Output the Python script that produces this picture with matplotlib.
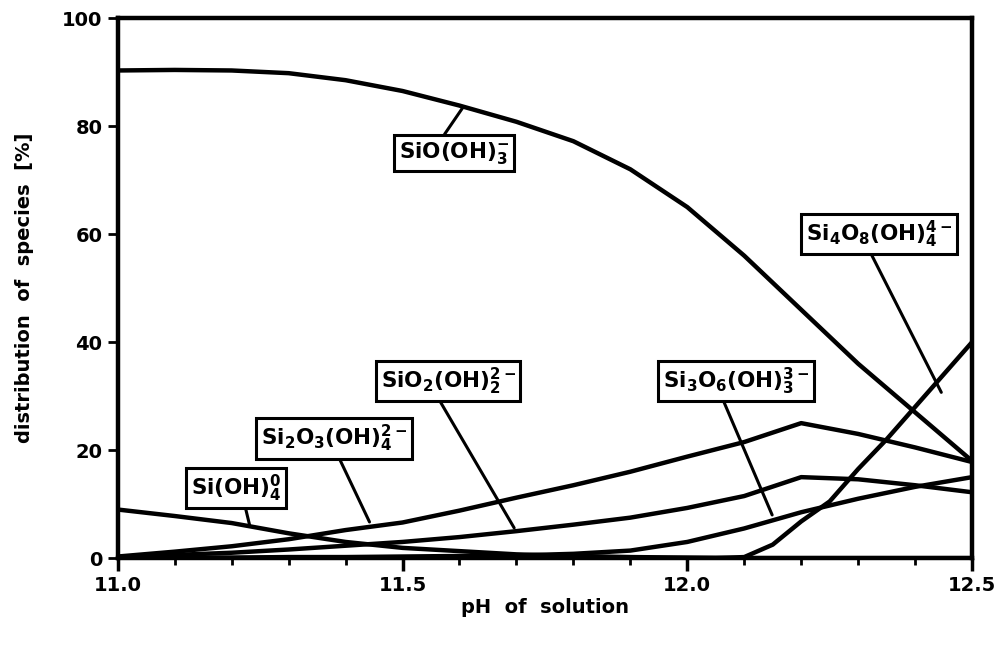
import matplotlib

matplotlib.use("Agg")
import matplotlib.pyplot as plt

plt.rcParams["font.family"] = ["DejaVu Sans"]
plt.rcParams["font.weight"] = "bold"
plt.rcParams["mathtext.fontset"] = "custom"
plt.rcParams["mathtext.rm"] = "DejaVu Sans:bold"
plt.rcParams["mathtext.it"] = "DejaVu Sans:bold"
plt.rcParams["mathtext.bf"] = "DejaVu Sans:bold"
plt.rcParams["mathtext.default"] = "rm"

# pH grid used for most species
ph = [11.0, 11.1, 11.2, 11.3, 11.4, 11.5, 11.6, 11.7, 11.8, 11.9, 12.0, 12.1, 12.2, 12.3, 12.4, 12.5]

sio_oh3 = [90.3, 90.4, 90.3, 89.8, 88.5, 86.5, 83.8, 80.8, 77.2, 72.0, 65.0, 56.0, 46.0, 36.0, 27.0, 18.0]
si2o3_oh4 = [0.3, 1.2, 2.2, 3.5, 5.2, 6.6, 8.8, 11.2, 13.5, 16.0, 18.8, 21.5, 25.0, 23.0, 20.5, 17.8]
sio2_oh2 = [0.2, 0.6, 1.0, 1.6, 2.3, 3.0, 3.9, 5.0, 6.2, 7.5, 9.3, 11.5, 15.0, 14.6, 13.5, 12.2]
si3o6_oh3 = [0.0, 0.1, 0.1, 0.2, 0.2, 0.3, 0.4, 0.5, 0.8, 1.4, 3.0, 5.5, 8.5, 11.0, 13.2, 15.0]
si_oh4 = [9.0, 7.8, 6.5, 4.6, 3.0, 1.9, 1.3, 0.7, 0.4, 0.2, 0.1, 0.0, 0.0, 0.0, 0.0, 0.0]

ph_si4 = [11.0, 11.5, 12.0, 12.05, 12.1, 12.15, 12.2, 12.25, 12.3, 12.35, 12.4, 12.45, 12.5]
si4o8_oh4 = [0.0, 0.0, 0.0, 0.0, 0.2, 2.5, 6.8, 10.5, 16.5, 22.0, 28.0, 34.0, 40.0]

# labels: text, box centre (pH, %), leader end (pH, %), leader start on box
labels = [
    (r"SiO(OH)$_3^{-}$", (11.59, 75.0), (11.605, 83.3), (0.38, 1.0)),
    (r"Si$_4$O$_8$(OH)$_4^{4-}$", (12.337, 60.0), (12.446, 30.7), (0.43, 0.0)),
    (r"SiO$_2$(OH)$_2^{2-}$", (11.58, 32.8), (11.696, 5.6), (0.42, 0.0)),
    (r"Si$_3$O$_6$(OH)$_3^{3-}$", (12.086, 32.8), (12.149, 8.0), (0.40, 0.0)),
    (r"Si$_2$O$_3$(OH)$_4^{2-}$", (11.38, 22.2), (11.442, 6.7), (0.52, 0.0)),
    (r"Si(OH)$_4^{0}$", (11.208, 13.0), (11.232, 5.9), (0.59, 0.0)),
]

fig = plt.figure(figsize=(9.98, 6.46), dpi=100)
ax = fig.add_axes([0.118, 0.136, 0.856, 0.836])

for series in (sio_oh3, si2o3_oh4, sio2_oh2, si3o6_oh3, si_oh4):
    ax.plot(ph, series, color="black", linewidth=3.2, solid_joinstyle="round")
ax.plot(ph_si4, si4o8_oh4, color="black", linewidth=3.2, solid_joinstyle="round")

for text, centre, tip, rel in labels:
    ax.annotate(
        text,
        xy=tip,
        xytext=centre,
        ha="center",
        va="center",
        fontsize=15.5,
        fontweight="bold",
        bbox=dict(boxstyle="square,pad=0.22", fc="white", ec="black", lw=2.2),
        arrowprops=dict(arrowstyle="-", lw=2.2, color="black", relpos=rel, shrinkA=0, shrinkB=0),
    )

ax.set_xlim(11.0, 12.5)
ax.set_ylim(0, 100)
ax.set_xticks([11.0, 11.5, 12.0, 12.5])
ax.set_xticklabels(["11.0", "11.5", "12.0", "12.5"])
ax.set_xticks([11.1, 11.2, 11.3, 11.4, 11.6, 11.7, 11.8, 11.9, 12.1, 12.2, 12.3, 12.4], minor=True)
ax.set_yticks([0, 20, 40, 60, 80, 100])

ax.tick_params(axis="x", which="major", direction="out", length=9, width=2.5, labelsize=14, pad=4)
ax.tick_params(axis="x", which="minor", direction="out", length=5, width=2)
ax.tick_params(axis="y", which="major", direction="out", length=7, width=2, labelsize=14, pad=4)
for spine in ax.spines.values():
    spine.set_linewidth(3.2)

ax.set_xlabel("pH  of  solution", fontsize=14, fontweight="bold", labelpad=2)
ax.set_ylabel("distribution  of  species  [%]", fontsize=14, fontweight="bold", labelpad=20)

fig.savefig("out.png", dpi=100)
